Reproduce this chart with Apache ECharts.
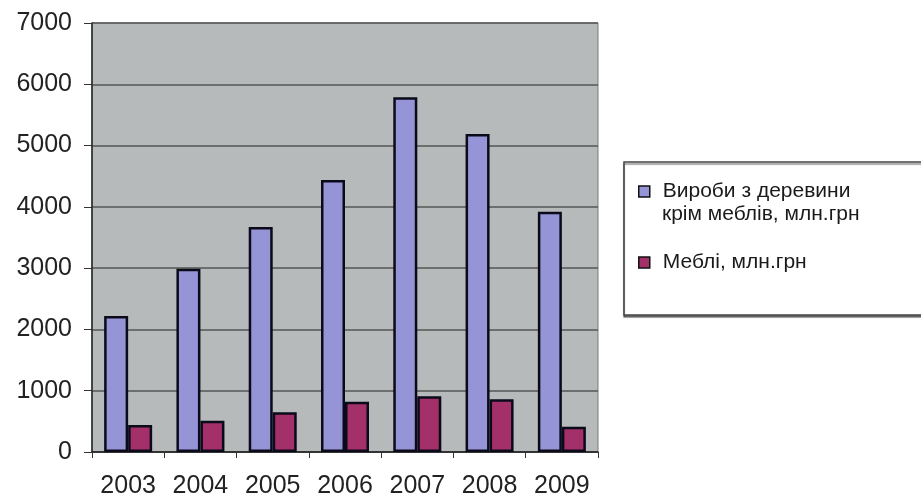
<!DOCTYPE html>
<html>
<head>
<meta charset="utf-8">
<script src="https://cdn.jsdelivr.net/npm/echarts@6/dist/echarts.min.js"></script>
<style>
  html, body { margin: 0; padding: 0; background: #ffffff; }
  #chart { width: 921px; height: 500px; }
</style>
</head>
<body>
<div id="chart"></div>
<script>
// Виробництво: вироби з деревини та меблі, 2003–2009
const years = ['2003', '2004', '2005', '2006', '2007', '2008', '2009'];
const woodProducts = [2220, 2990, 3670, 4440, 5790, 5190, 3920];
const furniture = [440, 510, 650, 820, 910, 860, 410];
const seriesNames = ['Вироби з деревини', 'Меблі, млн.грн'];
const nameSecondLine = 'крім меблів, млн.грн';
const yTicks = [0, 1000, 2000, 3000, 4000, 5000, 6000, 7000];

const font = '"Liberation Sans", Arial, sans-serif';
const chart = echarts.init(document.getElementById('chart'), null, { renderer: 'canvas' });

chart.setOption({
  backgroundColor: '#ffffff',
  animation: false,
  grid: {
    left: 92, right: 323, top: 23, bottom: 48,
    show: true,
    backgroundColor: '#b6baba',
    borderColor: '#7a7a7a',
    borderWidth: 1
  },
  graphic: [{
    type: 'rect',
    shape: { x: 624, y: 162, width: 320, height: 153 },
    style: { fill: '#ffffff', stroke: '#444', lineWidth: 1.5,
             shadowColor: 'rgba(0,0,0,0.45)', shadowOffsetY: 2, shadowBlur: 1 },
    z: 0
  }, {
    type: 'text',
    left: 662,
    top: 204,
    style: { text: nameSecondLine, font: '21px ' + font, fill: '#1a1a1a' },
    z: 6
  }],
  legend: {
    orient: 'vertical',
    left: 633,
    top: 176,
    itemWidth: 11,
    itemHeight: 11,
    itemGap: 50,
    icon: 'rect',
    textStyle: { fontFamily: font, fontSize: 21, color: '#1a1a1a', padding: [0, 0, 0, 8] },
    itemStyle: { borderColor: '#111', borderWidth: 1.5 },
    data: seriesNames,
    z: 5
  },
  xAxis: {
    type: 'category',
    data: years,
    axisLine: { lineStyle: { color: '#222', width: 1.5 } },
    axisTick: { show: true, alignWithLabel: false, length: 6, lineStyle: { color: '#333' } },
    axisLabel: { fontFamily: font, fontSize: 25, color: '#222', margin: 22, interval: 0 },
    splitLine: { show: false }
  },
  yAxis: {
    type: 'value',
    min: yTicks[0],
    max: yTicks[yTicks.length - 1],
    interval: 1000,
    axisLine: { show: true, lineStyle: { color: '#222', width: 1.5 } },
    axisTick: { show: true, length: 8, lineStyle: { color: '#333' } },
    axisLabel: { fontFamily: font, fontSize: 25, color: '#222', margin: 20,
                 formatter: v => String(v) },
    splitLine: { show: true, lineStyle: { color: '#555', width: 1.5 } }
  },
  series: [{
    name: seriesNames[0],
    type: 'bar',
    data: woodProducts,
    barWidth: 24,
    barGap: '0%',
    itemStyle: { color: '#9494d6', borderColor: '#0a0a1a', borderWidth: 2.5 }
  }, {
    name: seriesNames[1],
    type: 'bar',
    data: furniture,
    barWidth: 24,
    barGap: '0%',
    itemStyle: { color: '#a33068', borderColor: '#0a0a1a', borderWidth: 2.5 }
  }]
});
</script>
</body>
</html>
